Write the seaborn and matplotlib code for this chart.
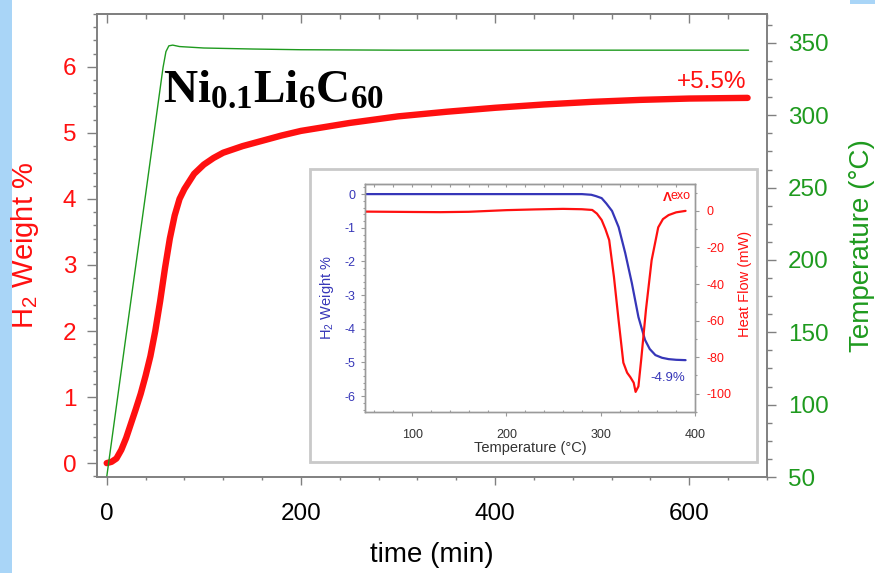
import matplotlib
matplotlib.use("Agg")
import matplotlib.pyplot as plt
import seaborn as sns
from matplotlib.ticker import MultipleLocator
from matplotlib.patches import Rectangle

# ---- hydrogen uptake vs. time (main panel) ----
time_min = [0, 5, 10, 15, 20, 25, 30, 35, 40, 45, 50, 55, 60, 65, 70, 75, 80,
            90, 100, 110, 120, 140, 160, 180, 200, 250, 300, 350, 400, 450,
            500, 550, 600, 660]
h2_wt = [0.0, 0.02, 0.07, 0.2, 0.38, 0.6, 0.82, 1.05, 1.32, 1.62, 2.0, 2.45,
         2.95, 3.4, 3.75, 4.0, 4.15, 4.38, 4.52, 4.62, 4.7, 4.8, 4.88, 4.96,
         5.03, 5.15, 5.25, 5.32, 5.38, 5.43, 5.47, 5.5, 5.52, 5.53]

# sample temperature during the run
temp_time = [0, 20, 40, 58, 61, 64, 68, 75, 100, 150, 200, 300, 400, 500, 600, 661]
temp_c = [50, 148, 245, 333, 344, 348, 348.5, 347.5, 346.5, 345.8, 345.3,
          345, 345, 345, 345, 345]

# ---- desorption scan (inset) ----
tga_temp = [50, 100, 150, 200, 250, 280, 290, 295, 301, 306, 312, 319, 326,
            333, 340, 347, 352, 358, 365, 372, 380, 390]
tga_wt = [0, 0, 0, 0, 0, 0, -0.02, -0.06, -0.12, -0.28, -0.5, -0.98, -1.75,
          -2.64, -3.65, -4.33, -4.6, -4.78, -4.86, -4.9, -4.92, -4.93]

dsc_temp = [50, 100, 130, 160, 200, 230, 260, 280, 291, 296, 301, 305, 309,
            314, 319, 324, 328, 331.5, 335, 337, 340, 343, 348, 354, 361, 366,
            372, 380, 390]
dsc_flow = [-0.4, -0.6, -0.7, -0.5, 0.4, 0.8, 1.1, 0.9, 0.5, -1.5, -5, -10,
            -16, -36, -60, -83, -88.5, -91, -94, -99, -96, -81, -54, -27, -9,
            -4.5, -2.3, -0.8, 0]

RED = "#ff1010"
GREEN = "#1e9a1e"
BLUE = "#3636b8"
SPINE = "#808080"

sns.set_style("ticks")
plt.rcParams["font.family"] = ["Liberation Sans", "DejaVu Sans"]
plt.rcParams["axes.unicode_minus"] = False
plt.rcParams["mathtext.fontset"] = "custom"
plt.rcParams["mathtext.rm"] = "Liberation Sans"
plt.rcParams["mathtext.it"] = "Liberation Sans:italic"
plt.rcParams["mathtext.bf"] = "Liberation Serif:bold"

W, H = 875, 573
fig = plt.figure(figsize=(W / 100, H / 100), dpi=100)
fig.patch.set_facecolor("white")

# page edge strips
fig.add_artist(Rectangle((0, 0), 12 / W, 1, transform=fig.transFigure,
                         facecolor="#a9d5f7", edgecolor="none", zorder=-1))
fig.add_artist(Rectangle((850 / W, 1 - 4 / H), 25 / W, 4 / H,
                         transform=fig.transFigure, facecolor="#a9d5f7",
                         edgecolor="none", zorder=-1))

ax = fig.add_axes([97 / W, 96 / H, 670 / W, 463 / H])
ax2 = ax.twinx()

sns.lineplot(x=temp_time, y=temp_c, ax=ax2, color=GREEN, linewidth=1.0)
sns.lineplot(x=time_min, y=h2_wt, ax=ax, color=RED, linewidth=4.6)

ax.set_xlim(-10, 680)
ax.set_ylim(-0.21, 6.8)
ax2.set_ylim(50, 370)

ax.xaxis.set_major_locator(MultipleLocator(200))
ax.xaxis.set_minor_locator(MultipleLocator(40))
ax.yaxis.set_major_locator(MultipleLocator(1))
ax.yaxis.set_minor_locator(MultipleLocator(0.2))
ax2.yaxis.set_major_locator(MultipleLocator(50))
ax2.yaxis.set_minor_locator(MultipleLocator(12.5))

for a in (ax, ax2):
    for s in a.spines.values():
        s.set_color(SPINE)
        s.set_linewidth(1.2)

ax.tick_params(axis="x", which="major", direction="out", length=6, width=1,
               color=SPINE, labelsize=17.5, pad=13, labelcolor="black")
ax.tick_params(axis="x", which="minor", direction="out", length=2.5, width=1,
               color=SPINE)
ax.tick_params(axis="y", which="major", direction="out", length=7, width=1,
               color=SPINE, labelsize=17.5, pad=8, labelcolor=RED)
ax.tick_params(axis="y", which="minor", direction="out", length=3, width=1,
               color=SPINE)
ax2.tick_params(axis="y", which="major", direction="out", length=6.5, width=1,
                color=SPINE, labelsize=17.5, pad=8.5, labelcolor=GREEN)
ax2.tick_params(axis="y", which="minor", direction="out", length=3.5, width=1,
                color=SPINE)

top = ax.secondary_xaxis("top")
top.xaxis.set_major_locator(MultipleLocator(200))
top.xaxis.set_minor_locator(MultipleLocator(40))
top.tick_params(which="major", direction="in", length=6.5, width=1,
                color=SPINE, labeltop=False)
top.tick_params(which="minor", direction="in", length=3.5, width=1,
                color=SPINE)
top.spines["top"].set_color(SPINE)
top.spines["top"].set_linewidth(1.2)

ax.set_xlabel("time (min)", fontsize=20, color="black")
ax.xaxis.set_label_coords(0.5, -(555 - 477) / 463)
ax.xaxis.label.set_va("center")
ax.set_ylabel("H$_2$ Weight %", fontsize=21, color=RED)
ax.yaxis.set_label_coords((25 - 97) / 670, 0.5)
ax.yaxis.label.set_va("center")
ax2.set_ylabel("Temperature (°C)", fontsize=20, color=GREEN)
ax2.yaxis.set_label_coords((862 - 97) / 670, 0.5)
ax2.yaxis.label.set_va("center")
ax2.yaxis.label.set_rotation(90)

ax.text(659, 5.68, f"+{h2_wt[-1]:.1f}%", color=RED, fontsize=17.5,
        ha="right", va="baseline")

fig.text(163 / W, 1 - 103 / H, r"$\mathbf{Ni_{0.1}Li_{6}C_{60}}$",
         fontsize=34, color="black", ha="left", va="baseline", zorder=6)

# ---- inset panel ----
fig.add_artist(Rectangle((310 / W, 1 - 462 / H), 447 / W, 293 / H,
                         transform=fig.transFigure, facecolor="white",
                         edgecolor="#c9c9c9", linewidth=2, zorder=3))

axi = fig.add_axes([365 / W, 1 - 412 / H, 330 / W, 228 / H])
axi.set_zorder(4)
axi2 = axi.twinx()
axi2.set_zorder(5)
axi2.patch.set_visible(False)

sns.lineplot(x=tga_temp, y=tga_wt, ax=axi, color=BLUE, linewidth=1.6)
sns.lineplot(x=dsc_temp, y=dsc_flow, ax=axi2, color=RED, linewidth=1.6)

axi.set_xlim(50, 400)
axi.set_ylim(-6.47, 0.3)
axi2.set_ylim(-110, 14.7)

axi.xaxis.set_major_locator(MultipleLocator(100))
axi.xaxis.set_minor_locator(MultipleLocator(20))
axi.yaxis.set_major_locator(MultipleLocator(1))
axi.yaxis.set_minor_locator(MultipleLocator(0.2))
axi2.yaxis.set_major_locator(MultipleLocator(20))
axi2.yaxis.set_minor_locator(MultipleLocator(10))

for a in (axi, axi2):
    for s in a.spines.values():
        s.set_color("#9a9a9a")
        s.set_linewidth(1.0)

axi.tick_params(axis="x", which="major", direction="out", length=3, width=0.8,
                color="#9a9a9a", labelsize=9, pad=9, labelcolor="#333333")
axi.tick_params(axis="x", which="minor", direction="in", length=1.5,
                width=0.8, color="#9a9a9a")
axi.tick_params(axis="y", which="major", direction="out", length=3, width=0.8,
                color="#9a9a9a", labelsize=9, pad=4, labelcolor=BLUE)
axi.tick_params(axis="y", which="minor", direction="out", length=1.5,
                width=0.8, color="#9a9a9a")
axi2.tick_params(axis="y", which="major", direction="out", length=3,
                 width=0.8, color="#9a9a9a", labelsize=9, pad=5,
                 labelcolor=RED)
axi2.tick_params(axis="y", which="minor", direction="out", length=1.5,
                 width=0.8, color="#9a9a9a")

itop = axi.secondary_xaxis("top")
itop.xaxis.set_major_locator(MultipleLocator(100))
itop.xaxis.set_minor_locator(MultipleLocator(20))
itop.tick_params(which="both", direction="in", length=2, width=0.8,
                 color="#9a9a9a", labeltop=False)
itop.spines["top"].set_color("#9a9a9a")

axi.set_xlabel("Temperature (°C)", fontsize=10.5, color="#333333")
axi.xaxis.set_label_coords(0.5, -(448 - 412) / 228)
axi.xaxis.label.set_va("center")
axi.set_ylabel("H$_2$ Weight %", fontsize=10.5, color=BLUE)
axi.yaxis.set_label_coords((327 - 365) / 330, 0.5)
axi.yaxis.label.set_va("center")
axi2.set_ylabel("Heat Flow (mW)", fontsize=10.5, color=RED)
axi2.yaxis.set_label_coords((745 - 365) / 330, (412 - 284) / 228)
axi2.yaxis.label.set_va("center")
axi2.yaxis.label.set_rotation(90)

axi.text(352.6, -5.55, f"{tga_wt[-1]:.1f}%", color=BLUE, fontsize=9.5,
         ha="left", va="baseline")
axi2.text(365.5, 5.3, "Λ", color=RED, fontsize=9.5, ha="left",
          va="baseline", fontweight="bold")
axi2.text(373.5, 6.6, "exo", color=RED, fontsize=9, ha="left",
          va="baseline")

fig.savefig("out.png", dpi=100)
